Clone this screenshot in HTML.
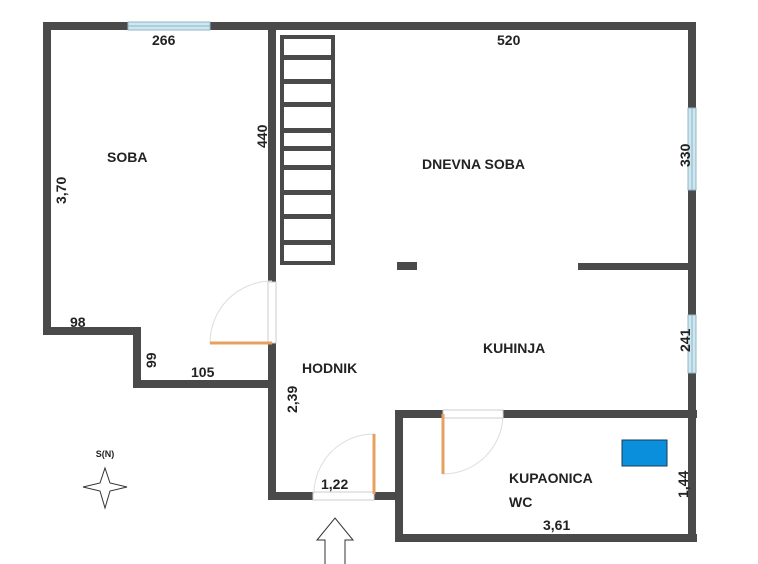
<!DOCTYPE html>
<html><head><meta charset="utf-8"><style>
html,body{margin:0;padding:0;background:#fff;width:758px;height:564px;overflow:hidden}
text{font-family:"Liberation Sans",sans-serif;font-weight:bold;fill:#222}
</style></head><body>
<svg width="758" height="564" viewBox="0 0 758 564" xmlns="http://www.w3.org/2000/svg">
<g fill="#4a4a4a">
<!-- top wall -->
<rect x="43" y="22" width="653" height="8"/>
<!-- left wall -->
<rect x="43" y="22" width="8" height="313"/>
<rect x="43" y="327" width="98" height="8"/>
<rect x="133" y="327" width="8" height="61"/>
<rect x="133" y="380" width="143" height="8"/>
<!-- partition soba/stairs -->
<rect x="268" y="22" width="8" height="260"/>
<rect x="268" y="343" width="8" height="157"/>
<!-- hodnik bottom -->
<rect x="268" y="492" width="45" height="8"/>
<rect x="374" y="492" width="29" height="8"/>
<!-- bathroom -->
<rect x="395" y="410" width="8" height="132"/>
<rect x="395" y="534" width="302" height="8"/>
<rect x="395" y="410" width="48" height="8"/>
<rect x="503" y="410" width="194" height="8"/>
<!-- right wall -->
<rect x="688" y="22" width="8" height="520"/>
<!-- dnevna/kuhinja pieces -->
<rect x="397" y="262" width="20" height="8"/>
<rect x="578" y="263" width="118" height="7"/>
</g>
<!-- windows -->
<rect x="128" y="22" width="82" height="8" fill="#cfe6ef" stroke="#8fb7c7" stroke-width="1"/>
<line x1="128" y1="26" x2="210" y2="26" stroke="#8fb7c7"/>
<rect x="688" y="108" width="8" height="82" fill="#cfe6ef" stroke="#8fb7c7" stroke-width="1"/>
<line x1="692" y1="108" x2="692" y2="190" stroke="#8fb7c7"/>
<rect x="688" y="315" width="8" height="58" fill="#cfe6ef" stroke="#8fb7c7" stroke-width="1"/>
<line x1="692" y1="315" x2="692" y2="373" stroke="#8fb7c7"/>
<!-- door openings thin lines -->
<rect x="268" y="282" width="8" height="61" fill="none" stroke="#ccc" stroke-width="1"/>
<rect x="313" y="492" width="61" height="8" fill="none" stroke="#ccc" stroke-width="1"/>
<rect x="443" y="410" width="60" height="8" fill="none" stroke="#ccc" stroke-width="1"/>
<!-- stairs -->
<g fill="none" stroke="#4a4a4a" stroke-width="4">
<rect x="282" y="37" width="51" height="226"/>
</g>
<g fill="#4a4a4a">
<rect x="282" y="55" width="51" height="5"/>
<rect x="282" y="79" width="51" height="5"/>
<rect x="282" y="102" width="51" height="5"/>
<rect x="282" y="128" width="51" height="5"/>
<rect x="282" y="146" width="51" height="5"/>
<rect x="282" y="165" width="51" height="5"/>
<rect x="282" y="190" width="51" height="5"/>
<rect x="282" y="214" width="51" height="5"/>
<rect x="282" y="240" width="51" height="5"/>
</g>
<!-- doors -->
<path d="M272 281 A62 62 0 0 0 210 343" fill="none" stroke="#ddd" stroke-width="1"/>
<line x1="210" y1="343" x2="272" y2="343" stroke="#e8a060" stroke-width="3"/>
<path d="M374 434 A60 60 0 0 0 314 494" fill="none" stroke="#ddd" stroke-width="1"/>
<line x1="374" y1="434" x2="374" y2="494" stroke="#e8a060" stroke-width="3"/>
<path d="M503 414 A60 60 0 0 1 443 474" fill="none" stroke="#ddd" stroke-width="1"/>
<line x1="443" y1="414" x2="443" y2="474" stroke="#e8a060" stroke-width="3"/>
<!-- blue -->
<rect x="622" y="440" width="45" height="26" fill="#0a8fdc" stroke="#1a3a5a" stroke-width="1"/>
<!-- compass -->
<path d="M105 468 L110 483 L127 487 L110 491 L105 508 L100 491 L83 487 L100 483 Z" fill="#fff" stroke="#333" stroke-width="1"/>
<text x="105" y="457" font-size="9" text-anchor="middle" font-weight="normal">S(N)</text>
<!-- entry arrow -->
<path d="M325 564 L325 540 L317 540 L335 518 L353 540 L345 540 L345 564" fill="#fff" stroke="#333" stroke-width="1"/>
<!-- labels -->
<g font-size="14">
<text x="152" y="45">266</text>
<text x="497" y="45">520</text>
<text x="107" y="162">SOBA</text>
<text x="422" y="169">DNEVNA SOBA</text>
<text x="483" y="353">KUHINJA</text>
<text x="302" y="373">HODNIK</text>
<text x="509" y="483">KUPAONICA</text>
<text x="509" y="507">WC</text>
<text x="70" y="327">98</text>
<text x="191" y="377">105</text>
<text x="321" y="489">1,22</text>
<text x="543" y="530">3,61</text>
<text transform="translate(267,148) rotate(-90)">440</text>
<text transform="translate(66,204) rotate(-90)">3,70</text>
<text transform="translate(690,167) rotate(-90)">330</text>
<text transform="translate(690,352) rotate(-90)">241</text>
<text transform="translate(156,368) rotate(-90)">99</text>
<text transform="translate(297,413) rotate(-90)">2,39</text>
<text transform="translate(688,498) rotate(-90)">1,44</text>
</g>
</svg>
</body></html>
